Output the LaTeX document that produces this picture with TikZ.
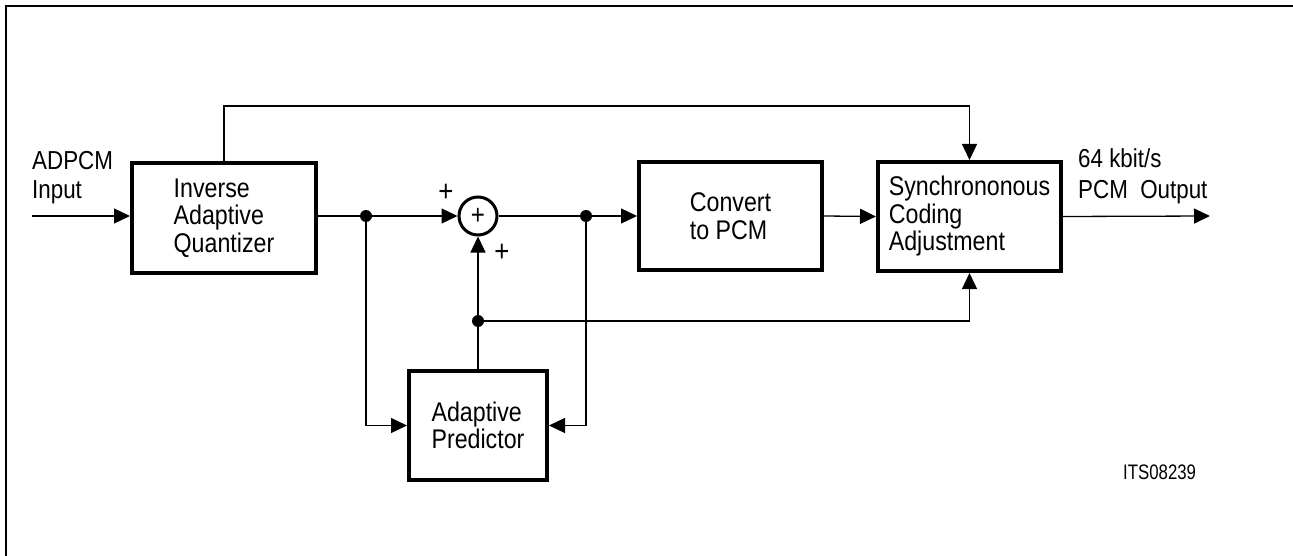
\documentclass[tikz,border=0pt]{standalone}
\usepackage{fontspec}
\setmainfont[FakeStretch=0.86]{Liberation Sans}
\newfontfamily\idfont[FakeStretch=0.8]{Liberation Sans}
\usetikzlibrary{arrows.meta}
\begin{document}
\begin{tikzpicture}[x=1pt,y=-1pt,
  blk/.style={draw,line width=4pt,inner sep=0pt,align=left,font=\fontsize{27}{27.5}\selectfont},
  wire/.style={line width=1.3pt},
  arr/.style={wire,-{Triangle[length=16pt,width=15pt]}},
  jdot/.style={circle,fill,inner sep=0pt,minimum size=12pt},
  lbl/.style={anchor=north west,inner sep=0pt,align=left},
  sgn/.style={inner sep=0pt,font=\fontsize{30}{30}\selectfont},
]
\useasboundingbox (0,0) rectangle (1293,556);
\draw[line width=2.5pt] (6,556) -- (6,6) -- (1293,6);

% blocks
\node[blk,minimum width=184pt,minimum height=109pt] (iaq) at (224,218) {Inverse\\Adaptive\\Quantizer};
\node[blk,minimum width=183pt,minimum height=108pt] (conv) at (730.5,216) {Convert\\to PCM};
\node[blk,minimum width=183pt,minimum height=109pt] (sync) at (969.5,216.5) {Synchrononous\\Coding\\Adjustment};
\node[blk,minimum width=138pt,minimum height=109pt] (ap) at (478,425.5) {Adaptive\\Predictor};
\node[circle,draw,line width=3pt,minimum size=38pt,inner sep=0pt,font=\fontsize{28}{28}\selectfont] (sum) at (478,216) {+};

% junctions
\node[jdot] (j1) at (366,216) {};
\node[jdot] (j2) at (586,216) {};
\node[jdot] (j3) at (478,321) {};
\coordinate (in) at (32,216);
\coordinate (out) at (1210,216);

% connectors
\draw[arr] (in) -- (in -| iaq.west);
\draw[arr] (iaq.north) -- ++(0,-55.5) -| (sync.north);
\draw[wire] (iaq.east |- j1) -- (j1);
\draw[arr] (j1) -- (sum.west);
\draw[wire] (sum.east) -- (j2);
\draw[arr] (j2) -- (conv.west);
\draw[arr] (conv.east) -- (sync.west);
\draw[arr] (sync.east) -- (out);
\draw[arr] (j1) |- (ap.west);
\draw[arr] (j2) |- (ap.east);
\draw[arr] (ap.north) -- (sum.south);
\draw[arr] (j3) -| (sync.south);

% labels
\node[lbl,font=\fontsize{26}{29}\selectfont] (inlbl) at (32,151) {ADPCM\\Input};
\node[lbl,font=\fontsize{26}{31}\selectfont] (outlbl) at (1078,148) {64 kbit/s\\PCM\ \ Output};
\node[sgn] (p1) at (446,193) {+};
\node[sgn] (p2) at (502,253) {+};
\node[lbl,font=\idfont\fontsize{21}{21}\selectfont] (id) at (1123,465) {ITS08239};
\end{tikzpicture}
\end{document}
